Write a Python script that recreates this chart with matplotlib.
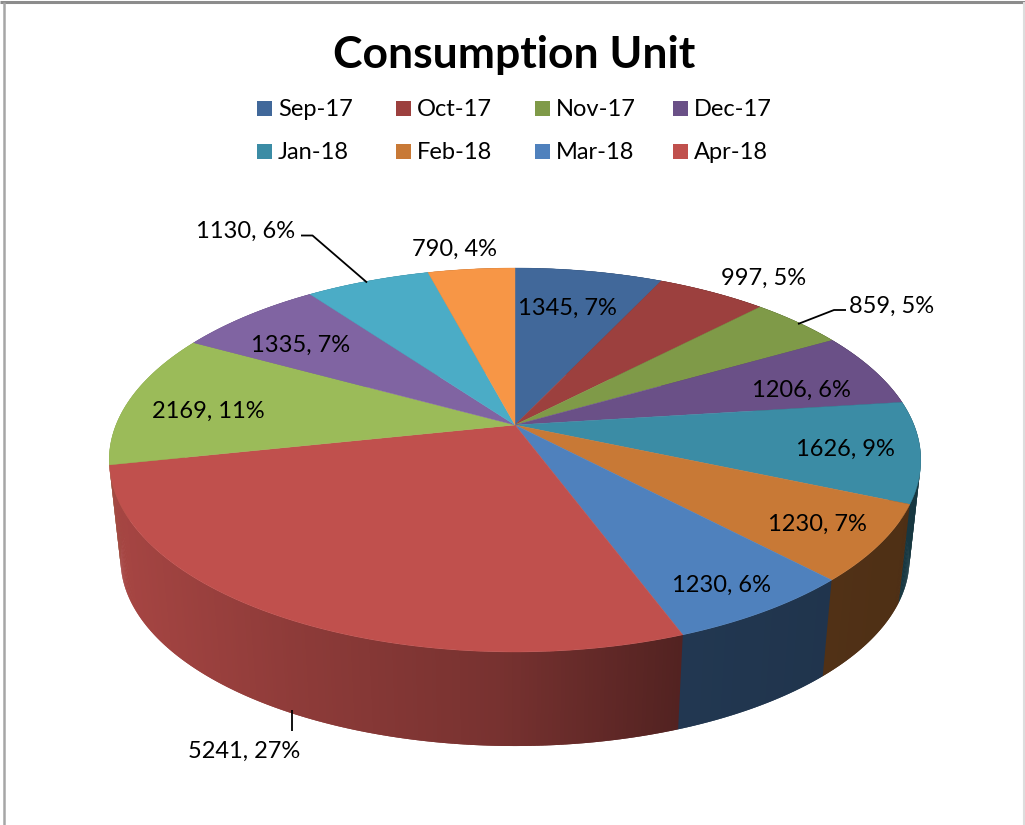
import numpy as np
import matplotlib
matplotlib.use("Agg")
import matplotlib.pyplot as plt
from matplotlib.patches import Polygon, Rectangle

plt.rcParams['font.family'] = ['Lato', 'DejaVu Sans']

# ---- data ----
TITLE = "Consumption Unit"
LEGEND_LABELS = ["Sep-17", "Oct-17", "Nov-17", "Dec-17", "Jan-18", "Feb-18", "Mar-18", "Apr-18"]
VALUES = [1345, 997, 859, 1206, 1626, 1230, 1230, 5241, 2169, 1335, 1130, 790]
PERCENT = [7, 5, 5, 6, 9, 7, 6, 27, 11, 7, 6, 4]

# ---- style / layout ----
COLORS = ["#41689A", "#9C403E", "#7F9A48", "#6A5087", "#3B8CA5", "#C87936",
          "#4F81BD", "#C0504D", "#9BBB59", "#8064A2", "#4BACC6", "#F79646"]
LABEL_XY = [(567, 308), (764, 278), (892, 306), (801, 390), (845, 449), (817, 524),
            (721, 585), (244, 751), (208, 411), (301, 345), (246, 231), (455, 249)]
LEADERS = [[(301, 235.5), (312.5, 235.5), (367, 282.5)],
           [(846, 310), (834, 310), (798, 324)],
           [(292, 710), (292, 731)]]
CX, CY, A, B, K = 515.0, 425.0, 399.0, 185.6, 0.1823   # perspective of the top face
S, CY_B = 0.972, 525.4                                  # bottom rim


def project(theta):
    """theta clockwise from 12 o'clock -> pixel position on the top rim."""
    x, y = np.sin(theta), np.cos(theta)
    d = 1 + K * y
    return CX + A * x / d, CY - B * y / d


def project_bottom(theta):
    X, Y = project(theta)
    return CX + (X - CX) * S, CY_B + (Y - CY) * S


def shade(hex_color, xpix):
    f = np.interp(xpix, [108, 290, 500, 680, 920], [0.87, 0.74, 0.62, 0.43, 0.39])
    return tuple(c * f for c in matplotlib.colors.to_rgb(hex_color))


fig = plt.figure(figsize=(10.25, 8.25), dpi=100, facecolor="white")
ax = fig.add_axes([0, 0, 1, 1])
ax.set_xlim(0, 1025)
ax.set_ylim(825, 0)
ax.axis("off")

# frame
ax.plot([0, 1025], [2, 2], color="#8C8C8C", lw=2.2, solid_capstyle="butt")
ax.plot([4, 4], [2, 825], color="#A6A6A6", lw=1.8, solid_capstyle="butt")
ax.plot([1024, 1024], [2, 825], color="#DDDDDD", lw=1.5, solid_capstyle="butt")

fractions = np.cumsum([0] + VALUES) / np.sum(VALUES)
edges = fractions * 2 * np.pi

# side wall: thin overlapping strips, painted from the back towards the front
strips = []
for i in range(len(VALUES)):
    n = max(3, int((edges[i + 1] - edges[i]) * 120))
    ts = np.linspace(edges[i], edges[i + 1], n)
    for t0, t1 in zip(ts[:-1], ts[1:]):
        strips.append((t0, t1, COLORS[i]))
strips.sort(key=lambda s: -np.cos((s[0] + s[1]) / 2))
for t0, t1, col in strips:
    mid = (t0 + t1) / 2
    fc = shade(col, project(mid)[0])
    if mid < np.pi:
        t1 = t1 + (t1 - t0)
    else:
        t0 = t0 - (t1 - t0)
    tt = np.linspace(t0, t1, 5)
    xa, ya = project(tt)
    xb, yb = project_bottom(tt[::-1])
    ax.add_patch(Polygon(list(zip(xa, ya)) + list(zip(xb, yb)), closed=True,
                         facecolor=fc, edgecolor="none"))

# top face
for i in range(len(VALUES)):
    ts = np.linspace(edges[i], edges[i + 1], 120)
    X, Y = project(ts)
    pts = [(CX, CY)] + list(zip(X, Y))
    ax.add_patch(Polygon(pts, closed=True, facecolor=COLORS[i], edgecolor=COLORS[i], lw=0.3))

# leader lines
for line in LEADERS:
    xs, ys = zip(*line)
    ax.plot(xs, ys, color="black", lw=1.3, solid_capstyle="butt")

# data labels
for v, p, (x, y) in zip(VALUES, PERCENT, LABEL_XY):
    ax.text(x, y, f"{v}, {p}%", fontsize=17, color="black", ha="center", va="center")

# title
ax.text(514, 55, TITLE, fontsize=32, fontweight="bold", color="black", ha="center", va="center")

# legend
col_x = [257, 396, 535, 673]
row_y = [108, 151]
for i, name in enumerate(LEGEND_LABELS):
    x, y = col_x[i % 4], row_y[i // 4]
    ax.add_patch(Rectangle((x, y - 7.5), 15, 15, facecolor=COLORS[i], edgecolor="none"))
    ax.text(x + 21, y + 1.5, name, fontsize=17, color="black", ha="left", va="center")

fig.savefig("out.png", dpi=100)
